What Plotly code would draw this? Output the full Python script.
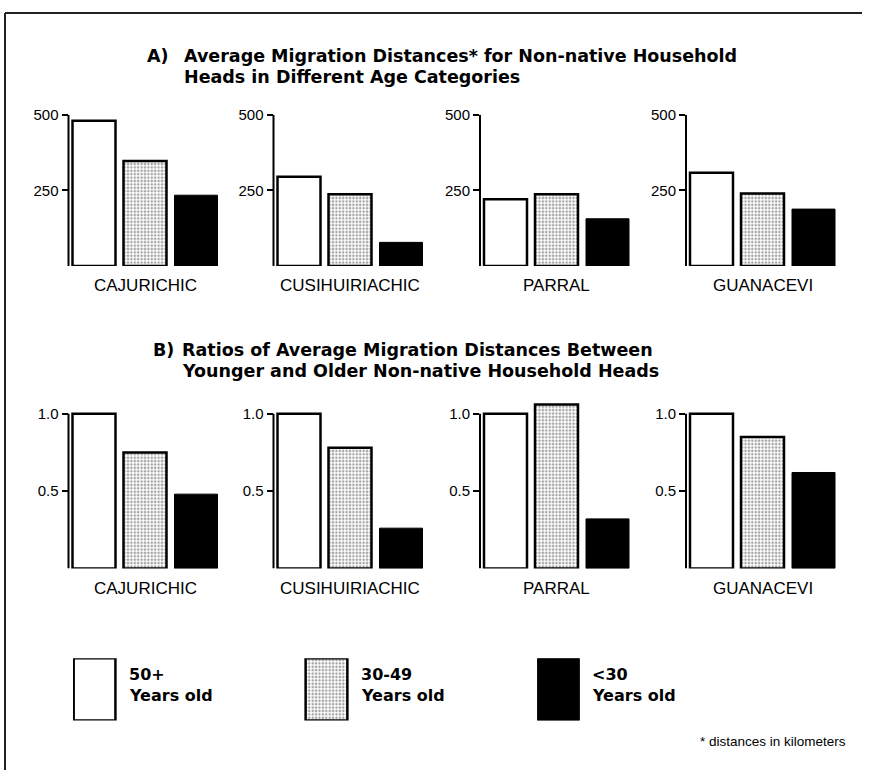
import plotly.graph_objects as go

# ---------------- data ----------------
towns = ["CAJURICHIC", "CUSIHUIRIACHIC", "PARRAL", "GUANACEVI"]
age_groups = ["50+", "30-49", "<30"]
age_labels = ["Years old", "Years old", "Years old"]

# Panel A: average migration distance (km)
dist_50plus = [480, 295, 221, 308]
dist_30_49 = [347, 237, 237, 240]
dist_under30 = [234, 78, 156, 188]

# Panel B: ratio of average distance relative to 50+ group
ratio_50plus = [1.0, 1.0, 1.0, 1.0]
ratio_30_49 = [0.75, 0.78, 1.06, 0.85]
ratio_under30 = [0.48, 0.26, 0.32, 0.62]

dist_ticks = [250, 500]
dist_ticktext = ["250", "500"]
ratio_ticks = [0.5, 1.0]
ratio_ticktext = ["0.5", "1.0"]

title_a = ["A)", "Average Migration Distances* for Non-native Household",
           "Heads in Different Age Categories"]
title_b = ["B)", "Ratios of Average Migration Distances Between",
           "Younger and Older Non-native Household Heads"]
footnote = "* distances in kilometers"

# ---------------- layout helpers ----------------
W, H = 869, 770
def px(x):
    return x / W
def py(y):
    return 1 - y / H

REG = "Liberation Sans, Arial, sans-serif"
BOLD = "DejaVu Sans, sans-serif"

fills = ["white", "white", "black"]
pat_shapes = ["", ".", ""]
line_widths = [2.5, 2.5, 1]
pattern = dict(shape=pat_shapes, fgcolor="#222222", bgcolor="white",
               size=3.4, solidity=0.42)

panel_x0 = [68.5, 273.5, 480.0, 686.0]
panel_w = 153

fig = go.Figure()
layout = {}
annotations = []
shapes = []

def add_panel(idx, values, section):
    n = idx + 1
    xa = "x" if n == 1 else f"x{n}"
    ya = "y" if n == 1 else f"y{n}"
    fig.add_trace(go.Bar(
        x=age_groups, y=values, xaxis=xa, yaxis=ya,
        marker=dict(color=fills, line=dict(color="black", width=line_widths),
                    pattern=pattern),
        showlegend=False, hoverinfo="skip",
    ))
    k = idx % 4
    x0 = panel_x0[k]
    if section == "A":
        ydom = [py(260), py(107)]
        yrng = [0, 500]
        tv, tt = dist_ticks, dist_ticktext
        label_y = 280
    else:
        ydom = [py(566), py(566 - 1.1 * 156.5)]
        yrng = [0, 1.1]
        tv, tt = ratio_ticks, ratio_ticktext
        label_y = 586
    layout["xaxis" if n == 1 else f"xaxis{n}"] = dict(
        domain=[px(x0), px(x0 + panel_w)], anchor=ya, range=[-0.5, 2.5],
        showticklabels=False, showline=False, showgrid=False, zeroline=False,
        ticks="", fixedrange=True)
    layout["yaxis" if n == 1 else f"yaxis{n}"] = dict(
        domain=ydom, anchor=xa, range=yrng, tickvals=tv, ticktext=tt,
        ticks="outside", ticklen=6, tickwidth=1.5, tickcolor="black",
        showline=False, showgrid=False, zeroline=False,
        tickfont=dict(family=REG, size=15, color="black"), fixedrange=True)
    # axis line from 0 up to the top tick
    shapes.append(dict(type="line", xref=f"{xa} domain", yref=ya,
                       x0=0, x1=0, y0=0, y1=tv[-1],
                       line=dict(color="black", width=2)))
    annotations.append(dict(text=towns[k], xref=f"{xa} domain", yref="paper",
                            x=0.5, y=py(label_y), xanchor="center", yanchor="middle",
                            showarrow=False,
                            font=dict(family=REG, size=17, color="black")))

for i in range(4):
    add_panel(i, [dist_50plus[i], dist_30_49[i], dist_under30[i]], "A")
for i in range(4):
    add_panel(4 + i, [ratio_50plus[i], ratio_30_49[i], ratio_under30[i]], "B")

# ---------------- legend panel ----------------
leg_positions = [0, 1, 2]
LEG_X0, LEG_X1 = 73, 580
LEG_PAD = 0.0929
fig.add_trace(go.Bar(
    x=leg_positions, y=[1, 1, 1], width=0.18, xaxis="x9", yaxis="y9",
    marker=dict(color=fills, line=dict(color="black", width=line_widths),
                pattern=pattern),
    showlegend=False, hoverinfo="skip",
))
layout["xaxis9"] = dict(domain=[px(LEG_X0), px(LEG_X1)], anchor="y9",
                        range=[-LEG_PAD, 2 + LEG_PAD], visible=False, fixedrange=True)
layout["yaxis9"] = dict(domain=[py(720), py(657)], anchor="x9",
                        range=[0, 1], visible=False, fixedrange=True)
unit_px = (LEG_X1 - LEG_X0) / (2 + 2 * LEG_PAD)
for i, (g, lab) in enumerate(zip(age_groups, age_labels)):
    tx = LEG_X0 + (i + LEG_PAD) * unit_px + 21 + 11
    for txt, yy in ((g, 673), (lab, 695)):
        annotations.append(dict(text="<b>" + txt + "</b>", xref="paper", yref="paper",
                                x=px(tx), y=py(yy), xanchor="left", yanchor="middle",
                                showarrow=False,
                                font=dict(family=BOLD, size=16, color="black")))

# ---------------- titles ----------------
def add_title(parts, x_lab, x_txt, y1, y2):
    f = dict(family=BOLD, size=17.5, color="black")
    for txt, xx, yy in ((parts[0], x_lab, y1), (parts[1], x_txt, y1), (parts[2], x_txt, y2)):
        annotations.append(dict(text="<b>" + txt + "</b>", xref="paper", yref="paper",
                                x=px(xx), y=py(yy), xanchor="left", yanchor="middle",
                                showarrow=False, font=f))

add_title(title_a, 145, 182, 48, 69)
add_title(title_b, 151, 180, 345, 366)

annotations.append(dict(text=footnote, xref="paper", yref="paper",
                        x=px(848), y=py(741), xanchor="right", yanchor="middle",
                        showarrow=False, font=dict(family=REG, size=13.5, color="black")))

# frame lines (top and left)
shapes.append(dict(type="line", xref="paper", yref="paper", x0=px(5), x1=px(862),
                   y0=py(4), y1=py(4), line=dict(color="#222", width=2)))
shapes.append(dict(type="line", xref="paper", yref="paper", x0=px(5), x1=px(5),
                   y0=py(4), y1=py(770), line=dict(color="#222", width=2)))

fig.update_layout(
    width=W, height=H, margin=dict(l=0, r=0, t=0, b=0),
    paper_bgcolor="white", plot_bgcolor="rgba(0,0,0,0)",
    bargap=0.157, showlegend=False,
    annotations=annotations, shapes=shapes,
    **layout,
)

fig.write_html("out.html", config={"displayModeBar": False},
               post_script="document.body.style.margin='0';document.body.style.overflow='hidden';")
